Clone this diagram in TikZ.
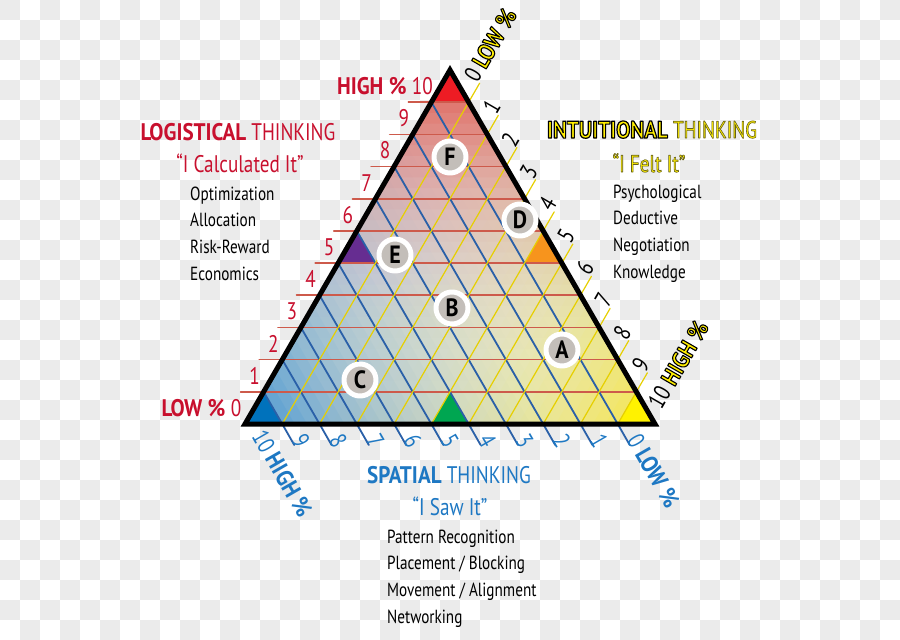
\documentclass[tikz,border=0pt]{standalone}
\usepackage{fontspec}
\setmainfont[FakeStretch=0.8,BoldFeatures={FakeStretch=0.88}]{PT Sans}
\usepackage{tikz}
\usetikzlibrary{calc,positioning,shadows}
\definecolor{ebebeb}{RGB}{235,235,235}
\definecolor{eeeceo}{RGB}{238,236,232}
\definecolor{cowqee}{RGB}{200,16,46}
\definecolor{weiocr}{RGB}{30,120,195}
\definecolor{ffeeqq}{RGB}{255,238,0}
\definecolor{edwcet}{RGB}{237,28,36}
\definecolor{qqiebc}{RGB}{0,114,188}
\definecolor{fffeqq}{RGB}{255,242,0}
\definecolor{uuedpw}{RGB}{102,45,145}
\definecolor{fiptwd}{RGB}{247,148,29}
\definecolor{qqauzw}{RGB}{0,166,81}
\definecolor{cdzatb}{RGB}{205,90,75}
\definecolor{eauqao}{RGB}{42,96,168}
\definecolor{eucfqq}{RGB}{230,207,0}
\definecolor{eqturc}{RGB}{224,70,60}
\definecolor{ebocde}{RGB}{43,140,210}
\definecolor{faeure}{RGB}{250,230,50}
\definecolor{crbebp}{RGB}{195,190,185}
\newcommand\outl[2]{\special{pdf:literal direct 2 Tr #1 w 0.4 0.38 0.1 RG}#2\special{pdf:literal direct 0 Tr}}
\newcommand\outlk[2]{\special{pdf:literal direct 2 Tr #1 w 0 0 0 RG}#2\special{pdf:literal direct 0 Tr}}
\tikzset{
  headfont/.style={font=\fontsize{24}{24}\selectfont,inner sep=0pt,anchor=base},
  listfont/.style={font=\fontsize{19}{19}\selectfont,inner sep=0pt,anchor=base west},
  numfont/.style={font=\fontsize{24}{24}\selectfont,inner sep=2.5pt},
  pctfont/.style={font=\bfseries\fontsize{24}{24}\selectfont,inner sep=2.5pt},
  badge/.style={circle,draw=white,line width=5pt,fill=crbebp,minimum size=32pt,inner sep=0pt,font=\bfseries\fontsize{25}{25}\selectfont,drop shadow={opacity=0.35,shadow xshift=1pt,shadow yshift=-1.5pt}}
}
\begin{document}
\begin{tikzpicture}[line cap=round,line join=round,x=1pt,y=-1pt]
\useasboundingbox (0,0) rectangle (900,640);
\foreach \i in {0,2,...,44}
\foreach \j in {0,2,...,30}
{\fill[ebebeb] (20*\i,20*\j) rectangle ++(20,20); \fill[ebebeb] (20*\i+20,20*\j+20) rectangle ++(20,20);}
\coordinate (A) at (245,424);
\coordinate (B) at (655,424);
\coordinate (C) at (450,70);
\fill[eeeceo] (A) -- (B) -- (C) -- cycle;
\foreach \cc/\pp/\qq/\col in {C/A/B/eqturc,A/B/C/ebocde,B/C/A/faeure}
{
\foreach \k in {0,...,32}
{
\pgfmathsetmacro{\Acur}{0.88*((\k+0.5)/33)^2.5}
\pgfmathsetmacro{\Aprev}{\k==0 ? 0 : 0.88*(abs(\k-0.5)/33)^2.5}
\pgfmathsetmacro{\alay}{1-(1-\Acur)/(1-\Aprev)}
\pgfmathsetmacro{\sfac}{1-\k/33}
\fill[\col,fill opacity=\alay] (\cc) -- ($(\cc)!\sfac!(\pp)$) -- ($(\cc)!\sfac!(\qq)$) -- cycle;
}
}
\fill[edwcet] (C) -- ($(C)!1/11!(A)$) -- ($(C)!1/11!(B)$) -- cycle;
\fill[qqiebc] (A) -- ($(A)!1/11!(B)$) -- ($(A)!1/11!(C)$) -- cycle;
\fill[fffeqq] (B) -- ($(B)!1/11!(A)$) -- ($(B)!1/11!(C)$) -- cycle;
\fill[uuedpw] ($(A)!5/11!(C)$) -- ($(A)!6/11!(C)$) -- ($(A)!5/11!(C)+(37.27,0)$) -- cycle;
\fill[fiptwd] ($(B)!5/11!(C)$) -- ($(B)!6/11!(C)$) -- ($(B)!5/11!(C)+(-37.27,0)$) -- cycle;
\fill[qqauzw] ($(A)!5/11!(B)$) -- ($(A)!6/11!(B)$) -- ($(A)!5.5/11!(B)+(0,-32.18)$) -- cycle;
\foreach \k in {1,...,10}
\draw[color=cdzatb,line width=1.6pt] ($(A)!\k/11!(C)+(-23,0)$) -- ($(B)!\k/11!(C)$);
\foreach \k in {1,...,10}
\draw[color=eauqao,line width=1.8pt] ($(A)!\k/11!(C)$) -- ($(A)!\k/11!(B)$) -- ++(12,21);
\foreach \k in {1,...,10}
\draw[color=eucfqq,line width=1.2pt] ($(A)!\k/11!(B)$) -- ($(C)!\k/11!(B)$) -- ++(11,-19);
\draw[line width=5pt,line join=miter] (A) -- (B) -- (C) -- cycle;
\foreach \k in {0,...,10}
{
\node[numfont,text=cowqee] (l\k) at (236+18.64*\k,408-32.18*\k) {\k};
\node[numfont,rotate=60] (r\k) at (473+18.64*\k,75+32.18*\k) {\k};
\node[numfont,text=weiocr,rotate=-60] (b\k) at (245+37.27*10.5-37.27*\k,441) {\k};
}
\node[pctfont,text=cowqee,anchor=base east] (highl) at (l10.base west) {HIGH \%};
\node[pctfont,text=cowqee,anchor=base east] (lowl) at (l0.base west) {LOW \%};
\node[pctfont,text=ffeeqq,rotate=60,anchor=base west] (lowr) at (r0.base east) {\outlk{1.1}{LOW \%}};
\node[pctfont,text=ffeeqq,rotate=60,anchor=base west] (highr) at (r10.base east) {\outlk{1.1}{HIGH \%}};
\node[pctfont,text=weiocr,rotate=-60,anchor=base west] (highb) at (b10.base east) {HIGH \%};
\node[pctfont,text=weiocr,rotate=-60,anchor=base west] (lowb) at (b0.base east) {LOW \%};
\node[headfont,text=cowqee] (logi) at (238,140) {\textbf{LOGISTICAL} THINKING};
\node[headfont,text=cowqee] (logiq) at (240,172) {“I Calculated It”};
\foreach \t [count=\n] in {Optimization,Allocation,Risk-Reward,Economics}
\node[listfont] (logi\n) at (190,173.3+26.7*\n) {\t};
\node[headfont,text=ffeeqq] (intu) at (652,138) {\textbf{\outlk{1.2}{INTUITIONAL}} \outl{0.6}{THINKING}};
\node[headfont,text=ffeeqq] (intuq) at (649,172) {\outl{0.6}{“I Felt It”}};
\foreach \t [count=\n] in {Psychological,Deductive,Negotiation,Knowledge}
\node[listfont] (intu\n) at (613,171.3+26.7*\n) {\t};
\node[headfont,text=weiocr] (spat) at (449,483) {\textbf{SPATIAL} THINKING};
\node[headfont,text=weiocr] (spatq) at (450,515) {“I Saw It”};
\foreach \t [count=\n] in {Pattern Recognition,Placement / Blocking,Movement / Alignment,Networking}
\node[listfont] (spat\n) at (387,516.3+26.7*\n) {\t};
\node[badge] (ba) at (562,350) {A};
\node[badge] (bb) at (452,308) {B};
\node[badge] (bc) at (360,380) {C};
\node[badge] (bd) at (520,220) {D};
\node[badge] (be) at (395,255) {E};
\node[badge] (bf) at (450,157) {F};
\end{tikzpicture}
\end{document}
